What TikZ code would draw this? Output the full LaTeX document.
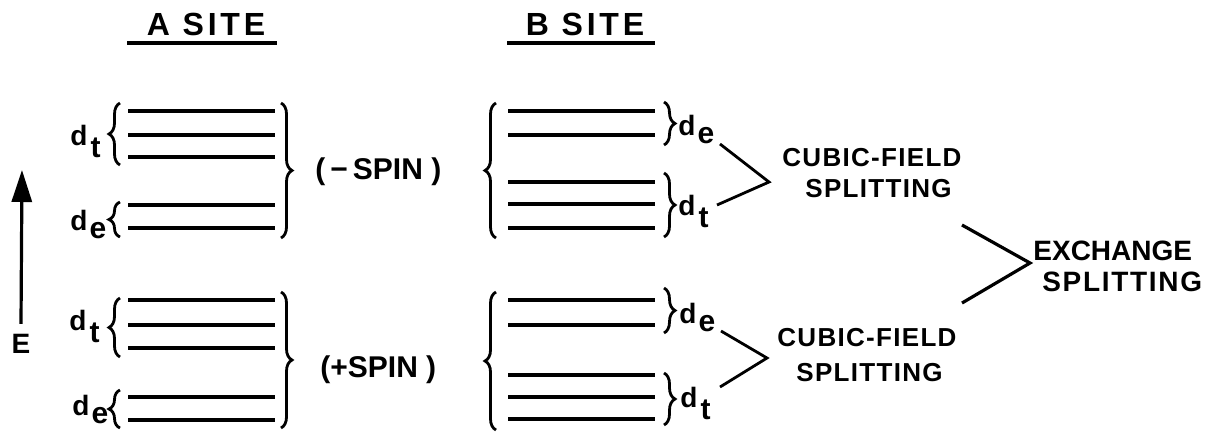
\documentclass[tikz,border=0pt]{standalone}
\usepackage{fontspec}
\setmainfont{Liberation Sans}
\usetikzlibrary{decorations.pathreplacing,arrows.meta}

\newcommand{\orbt}{d\kern1.5pt\raisebox{-6pt}{\fontsize{15}{15}\selectfont t}}
\newcommand{\orbe}{d\kern1pt\raisebox{-4pt}{\fontsize{15}{15}\selectfont e}}

\begin{document}
\begin{tikzpicture}[%
      x=0.5pt, y=-0.5pt,
      lvl/.style={line width=1.6pt},
      brc/.style={line width=1.4pt, decorate, decoration={brace, amplitude=5.5pt}},
      head/.style={inner sep=0pt, font=\bfseries\fontsize{16}{18}\selectfont\addfontfeature{LetterSpace=12}},
      cubic/.style={inner sep=0pt, anchor=west, font=\bfseries\fontsize{13}{15}\selectfont\addfontfeature{LetterSpace=5}},
      exch/.style={inner sep=0pt, anchor=west, font=\bfseries\fontsize{14}{16}\selectfont},
      spin/.style={inner sep=0pt, anchor=west, font=\bfseries\fontsize{15}{17}\selectfont},
      orb/.style={inner sep=0pt, anchor=base west, font=\bfseries\fontsize{14}{16}\selectfont},
      ]
      \useasboundingbox (0,0) rectangle (1218,435);

      % headings
      \node[head] (siteA) at (206,24) {A SITE};
      \node[head] (siteB) at (585,24) {B SITE};
      \draw[line width=2pt] (127,43) -- (277,43);
      \draw[line width=2pt] (507,43) -- (655,43);

      % energy axis
      \node[inner sep=0pt, font=\bfseries\fontsize{14}{16}\selectfont] (E) at (21,344) {E};
      \coordinate (Etop) at (22,170);
      \draw[line width=1.6pt, -{Triangle[length=16pt,width=10pt]}] ([yshift=5pt]E.north) -- (Etop);

      % A site, -spin
      \draw[lvl] (128,111) -- (275,111);
      \draw[lvl] (128,135) -- (275,135);
      \draw[lvl] (128,157) -- (275,157);
      \draw[lvl] (128,205) -- (275,205);
      \draw[lvl] (128,228) -- (275,228);
      \draw[brc] (120,165) -- (120,103);
      \draw[brc] (120,237) -- (120,202);
      \draw[brc] (281,103) -- (281,238);
      \node[orb] (dtA1) at (70,145) {\orbt};
      \node[orb] (deA1) at (70,230) {\orbe};

      % A site, +spin
      \draw[lvl] (128,300) -- (275,300);
      \draw[lvl] (128,325) -- (275,325);
      \draw[lvl] (128,348) -- (275,348);
      \draw[lvl] (128,397) -- (275,397);
      \draw[lvl] (128,420) -- (275,420);
      \draw[brc] (120,357) -- (120,298);
      \draw[brc] (120,428) -- (120,390);
      \draw[brc] (281,292) -- (281,428);
      \node[orb] (dtA2) at (69,330) {\orbt};
      \node[orb] (deA2) at (72,415) {\orbe};

      \node[spin] (minus) at (315,172) {(\,−\,SPIN\;)};
      \node[spin] (plus) at (320,370) {(+SPIN\;)};

      % B site, -spin
      \draw[lvl] (508,111) -- (655,111);
      \draw[lvl] (508,135) -- (655,135);
      \draw[lvl] (508,182) -- (655,182);
      \draw[lvl] (508,204) -- (655,204);
      \draw[lvl] (508,228) -- (655,228);
      \draw[brc] (496,238) -- (496,103);
      \draw[brc] (664,102) -- (664,145);
      \draw[brc] (664,173) -- (664,237);
      \node[orb] (deB1) at (678,135) {\orbe};
      \node[orb] (dtB1) at (678,215) {\orbt};

      % B site, +spin
      \draw[lvl] (508,300) -- (655,300);
      \draw[lvl] (508,325) -- (655,325);
      \draw[lvl] (508,375) -- (655,375);
      \draw[lvl] (508,397) -- (655,397);
      \draw[lvl] (508,419) -- (655,419);
      \draw[brc] (496,430) -- (496,292);
      \draw[brc] (664,288) -- (664,333);
      \draw[brc] (664,373) -- (664,425);
      \node[orb] (deB2) at (679,323) {\orbe};
      \node[orb] (dtB2) at (680,407) {\orbt};

      % splittings
      \node[cubic] (cf1) at (782,158) {CUBIC-FIELD};
      \node[cubic] (sp1) at (805,189) {SPLITTING};
      \node[cubic] (cf2) at (777,338) {CUBIC-FIELD};
      \node[cubic] (sp2) at (796,373) {SPLITTING};
      \node[exch] (ex) at (1033,251) {EXCHANGE};
      \node[exch, font=\bfseries\fontsize{14}{16}\selectfont\addfontfeature{LetterSpace=6}] (sp3) at (1042,282) {SPLITTING};

      \coordinate (c1a) at (720,144);
      \coordinate (c1b) at (769,182);
      \coordinate (c1c) at (717,205);
      \coordinate (c2a) at (721,331);
      \coordinate (c2b) at (767,358);
      \coordinate (c2c) at (720,387);
      \coordinate (c3a) at (962,225);
      \coordinate (c3b) at (1030,263);
      \coordinate (c3c) at (962,303);
      \draw[line width=1.4pt] (c1a) -- (c1b) -- (c1c);
      \draw[line width=1.4pt] (c2a) -- (c2b) -- (c2c);
      \draw[line width=1.6pt] (c3a) -- (c3b) -- (c3c);
\end{tikzpicture}
\end{document}
